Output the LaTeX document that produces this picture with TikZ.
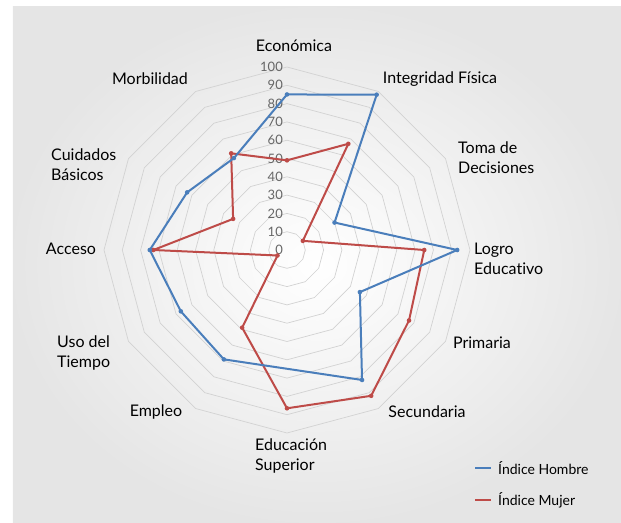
\documentclass[tikz,border=0pt]{standalone}
\usepackage{fontspec}
\setmainfont{Lato}[Ligatures=NoCommon]
\usetikzlibrary{positioning}
\definecolor{hblue}{HTML}{4A7EBB}
\definecolor{mred}{HTML}{BE4B48}

\begin{document}
\begin{tikzpicture}[x=1pt,y=1pt,
                    ring/.style={draw=gray!35,line width=0.7pt},
                    tick/.style={text=black!60,font=\fontsize{13}{15}\selectfont,inner sep=0pt,anchor=east},
                    axis label/.style={font=\fontsize{16}{20}\selectfont,inner sep=0pt,align=left},
                    legend/.style={font=\fontsize{14}{16}\selectfont,inner sep=0pt,anchor=west},
                    hombre/.style={draw=hblue,line width=2pt,line join=round},
                    mujer/.style={draw=mred,line width=2pt,line join=round}]
                \useasboundingbox (-287,-272) rectangle (334,250);
                \shade[inner color=white,outer color=gray!20] (-274,-272) rectangle (334,243);
                % grid rings 0..100
                \foreach \r in {1,...,10}
                    \draw[ring] (90:18.3*\r) \foreach \k in {1,...,11} { -- (90-30*\k:18.3*\r) } -- cycle;
                \foreach \v in {0,10,...,100}
                    \node[tick] (t\v) at (-4,1.83*\v) {\v};
                % axis labels
                \node[axis label] (eco) at (7,204) {Económica};
                \node[axis label] (integ) at (153,171) {Integridad Física};
                \node[axis label,anchor=west] (toma) at (171,92) {Toma de\\Decisiones};
                \node[axis label,anchor=west] (logro) at (187,-9) {Logro\\Educativo};
                \node[axis label] (prim) at (195,-93) {Primaria};
                \node[axis label] (sec) at (140,-162) {Secundaria};
                \node[axis label,anchor=west] (sup) at (-32,-206) {Educación\\Superior};
                \node[axis label] (empleo) at (-131,-162) {Empleo};
                \node[axis label,anchor=west] (uso) at (-230,-103) {Uso del\\Tiempo};
                \node[axis label] (acceso) at (-216,1) {Acceso};
                \node[axis label,anchor=west] (cuid) at (-236,85) {Cuidados\\Básicos};
                \node[axis label] (morb) at (-137,171) {Morbilidad};
                % data
                \foreach \k/\v in {0/85,1/98,2/30,3/93,4/46,5/82,7/69,8/67,9/75,10/63,11/58}
                    \coordinate (h\k) at (90-30*\k:1.83*\v);
                \foreach \k/\v in {0/49,1/67,2/10,3/75,4/77,5/92,6/86.5,7/49,8/6,9/73,10/34,11/61}
                    \coordinate (m\k) at (90-30*\k:1.83*\v);
                \draw[mujer] (m0) -- (m1) -- (m2) -- (m3) -- (m4) -- (m5) -- (m6)
                    -- (m7) -- (m8) -- (m9) -- (m10) -- (m11) -- cycle;
                \draw[hombre] (h0) -- (h1) -- (h2) -- (h3) -- (h4) -- (h5)
                    -- (h7) -- (h8) -- (h9) -- (h10) -- (h11) -- cycle;
                \foreach \k in {0,...,11}
                    \fill[mred] (m\k) circle (2.3pt);
                \foreach \k in {0,1,2,3,4,5,7,8,9,10,11}
                    \fill[hblue] (h\k) circle (2.3pt);
                % legend
                \coordinate (lh1) at (188,-218);
                \coordinate (lh2) at (204,-218);
                \coordinate (lm1) at (188,-250);
                \coordinate (lm2) at (204,-250);
                \draw[hombre] (lh1) -- (lh2);
                \draw[mujer] (lm1) -- (lm2);
                \node[legend,right=7pt of lh2] (lhtext) {Índice Hombre};
                \node[legend,right=7pt of lm2] (lmtext) {Índice Mujer};
\end{tikzpicture}
\end{document}
